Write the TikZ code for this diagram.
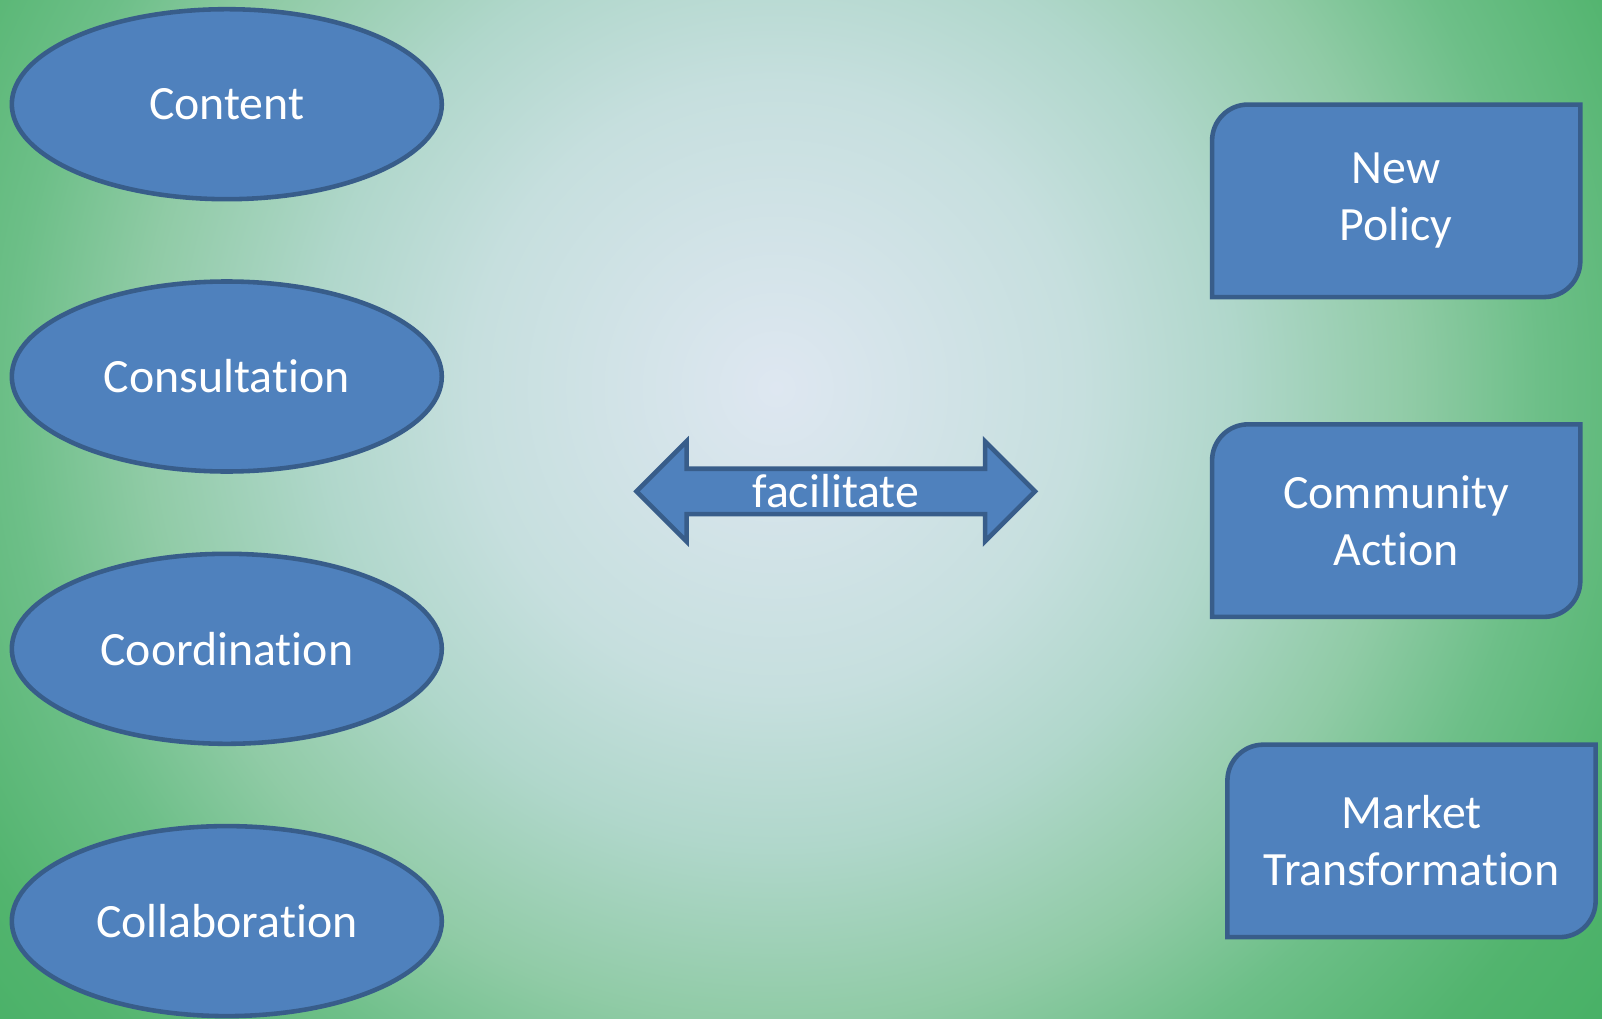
\documentclass[tikz,border=0pt]{standalone}
\usepackage{fontspec}
\setmainfont{Carlito}[Ligatures=NoCommon]
\usetikzlibrary{shapes.geometric, shapes.arrows, positioning, backgrounds}
\definecolor{boxblue}{HTML}{4F81BD}
\definecolor{boxedge}{HTML}{385D8A}
\definecolor{bgA}{HTML}{DEE7F1}
\definecolor{bgB}{HTML}{C6DFDE}
\definecolor{bgC}{HTML}{B0D7CB}
\definecolor{bgD}{HTML}{90CBA6}
\definecolor{bgE}{HTML}{6DBF88}
\definecolor{bgF}{HTML}{52B46E}
\definecolor{bgG}{HTML}{45B064}
\pgfdeclareradialshading{glow}{\pgfpoint{0bp}{0bp}}{%
  color(0bp)=(bgA); color(6.8bp)=(bgB); color(10.2bp)=(bgC); color(14.1bp)=(bgD);
  color(17bp)=(bgE); color(20.5bp)=(bgF); color(23.9bp)=(bgG); color(50bp)=(bgG)}
\tikzset{
    node distance=2.723cm, % spacing of the ellipses down the left side
    label/.style={text=white, font=\fontsize{13.6}{16.3}\selectfont, align=center}, % white text in every shape
    idea/.style={label, ellipse, draw=boxedge, fill=boxblue, line width=1.3pt,
        minimum width=4.3cm, minimum height=1.9cm, inner sep=0pt}, % the ellipses
    outcome/.style={label, rectangle, minimum width=3.668cm, minimum height=1.911cm, inner sep=0pt}, % the boxes, outline drawn behind
    boxline/.style={draw=boxedge, fill=boxblue, line width=1.3pt}, % outline of the boxes
    link/.style={label, double arrow, draw=boxedge, fill=boxblue, line width=1.3pt,
        minimum height=3.985cm, minimum width=1.0cm, double arrow head extend=0.23cm, inner sep=0pt}, % the two-headed arrow
    }
\newcommand{\roundpair}[1]{% box with two rounded corners
  \draw[boxline] (#1.south west) -- ([yshift=-3.6mm]#1.north west)
    arc[start angle=180, end angle=90, radius=3.6mm] -- (#1.north east)
    -- ([yshift=3.6mm]#1.south east) arc[start angle=0, end angle=-90, radius=3.6mm] -- cycle;%
}
\begin{document}
\begin{tikzpicture}
            \useasboundingbox (0,0) rectangle (16.02,10.18);
            \node[idea] (content) at (2.268,9.138) {Content};
            \node[idea, below of=content] (consult) {Consultation};
            \node[idea, below of=consult] (coord) {Coordination};
            \node[idea, below of=coord] (collab) {Collaboration};
            \node[link] (facil) at (8.358,5.266) {facilitate};
            \node[outcome] (policy) at (13.962,8.172) {New\\Policy};
            \node[outcome, below of=policy, node distance=3.198cm] (community) {Community\\Action};
            \node[outcome, below of=community, node distance=3.203cm, xshift=1.53mm] (market) {Market\\Transformation};
            \begin{scope}[on background layer]
            \clip (0,0) rectangle (16.02,10.18);
            \shade[shading=glow] (7.76-11.24,6.30-11.24) rectangle (7.76+11.24,6.30+11.24);
            \roundpair{policy}
            \roundpair{community}
            \roundpair{market}
            \end{scope}
            \end{tikzpicture}
\end{document}
